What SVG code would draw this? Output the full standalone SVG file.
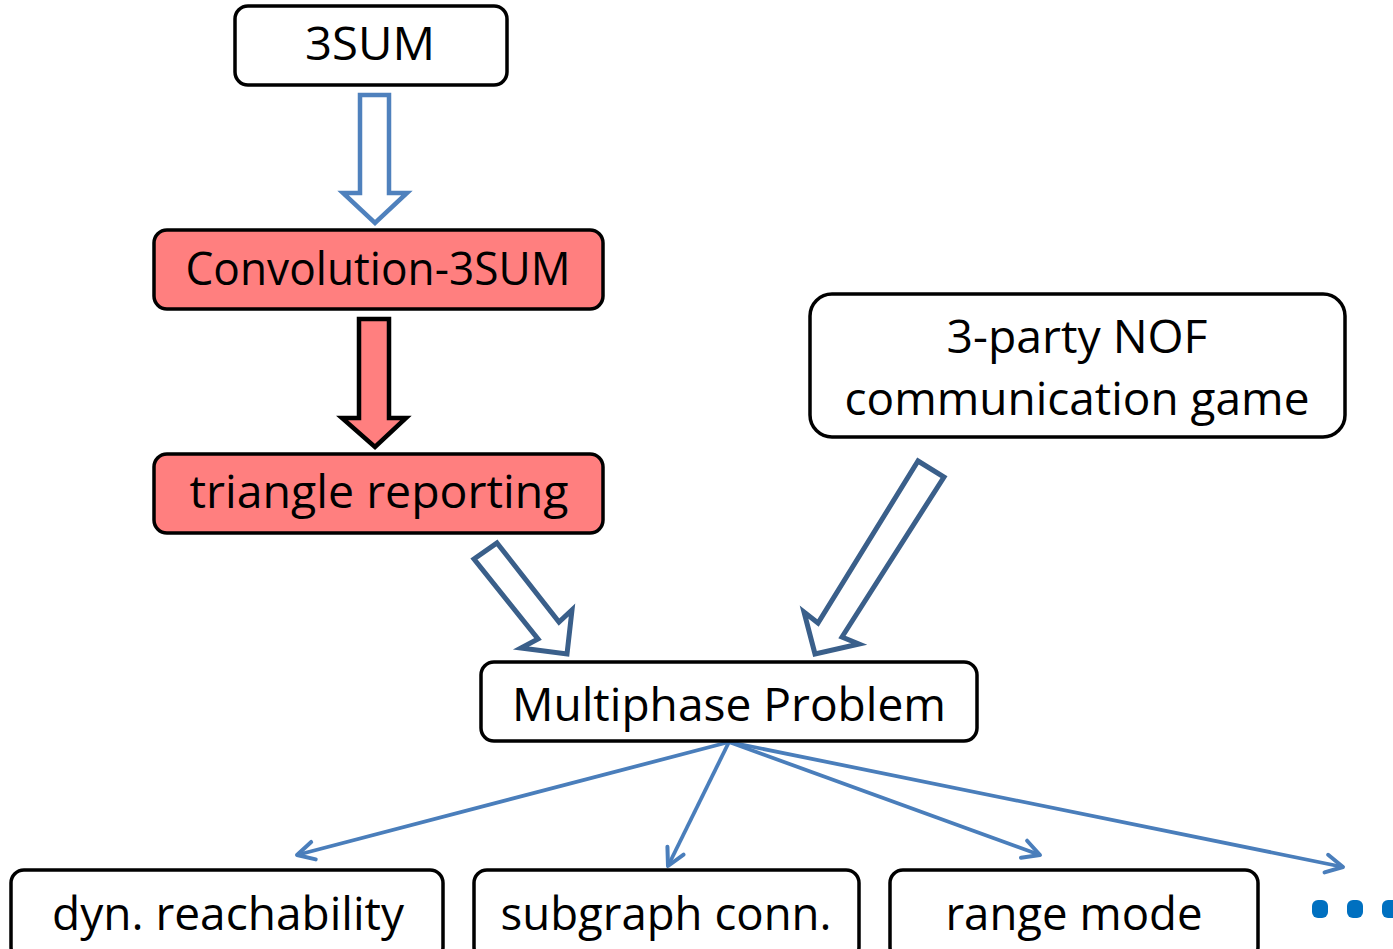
<svg xmlns="http://www.w3.org/2000/svg" width="1393" height="949" viewBox="0 0 1393 949">
<defs>
<style>
.box{fill:#fff;stroke:#000;stroke-width:3.5}
.red{fill:#FF7F7F;stroke:#000;stroke-width:3.5}
.t{font-family:"Open Sans","Liberation Sans",sans-serif;font-size:46px;fill:#000;text-anchor:middle}
.conn{fill:none;stroke:#4A7EBB;stroke-width:3.8}
.dot{fill:#0070C0}
</style>
<marker id="ah" viewBox="0 0 24 24" refX="21" refY="12" markerWidth="24" markerHeight="24" markerUnits="userSpaceOnUse" orient="auto">
<polyline points="4,3 21,12 4,21" fill="none" stroke="#4A7EBB" stroke-width="4" stroke-linecap="round" stroke-linejoin="round"/>
</marker>
</defs>
<rect width="1393" height="949" fill="#fff"/>
<g id="connectors">
<polygon points="360,95 389,95 389,193 407,193 375,223 343,193 360,193" fill="#fff" stroke="#4F81BD" stroke-width="4.5"/>
<polygon points="359,319 389,319 389,418 406,418 375,447 342,418 359,418" fill="#FF7F7F" stroke="#000" stroke-width="4.5"/>
<polygon points="497,543 559,622 572,610 567,654 521,648 538,639 474,559" fill="#fff" stroke="#3A5F8A" stroke-width="5" stroke-linejoin="miter"/>
<polygon points="918,461 944,477 842,637 859,644 815,654 804,612 818,623" fill="#fff" stroke="#3A5F8A" stroke-width="5" stroke-linejoin="miter"/>
<line class="conn" x1="729" y1="742" x2="297" y2="855" marker-end="url(#ah)"/>
<line class="conn" x1="729" y1="742" x2="668" y2="866" marker-end="url(#ah)"/>
<line class="conn" x1="729" y1="742" x2="1040" y2="855" marker-end="url(#ah)"/>
<line class="conn" x1="729" y1="742" x2="1343" y2="867" marker-end="url(#ah)"/>
</g>
<g id="n-3sum">
<rect class="box" x="235" y="6" width="272" height="79" rx="13"/>
<text class="t" x="370" y="60" textLength="130" lengthAdjust="spacingAndGlyphs">3SUM</text>
</g>
<g id="n-conv">
<rect class="red" x="154" y="230" width="449" height="79" rx="13"/>
<text class="t" x="378" y="285" textLength="385" lengthAdjust="spacingAndGlyphs">Convolution-3SUM</text>
</g>
<g id="n-tri">
<rect class="red" x="154" y="454" width="449" height="79" rx="13"/>
<text class="t" x="379" y="508" textLength="379" lengthAdjust="spacingAndGlyphs">triangle reporting</text>
</g>
<g id="n-nof">
<rect class="box" x="810" y="294" width="535" height="143" rx="22"/>
<text class="t" x="1077" y="353" textLength="261" lengthAdjust="spacingAndGlyphs">3-party NOF</text>
<text class="t" x="1077" y="415" textLength="465" lengthAdjust="spacingAndGlyphs">communication game</text>
</g>
<g id="n-multi">
<rect class="box" x="481" y="662" width="496" height="79" rx="13"/>
<text class="t" x="729" y="721" textLength="434" lengthAdjust="spacingAndGlyphs">Multiphase Problem</text>
</g>
<g id="n-dyn">
<rect class="box" x="11" y="870" width="432" height="90" rx="13"/>
<text class="t" x="228" y="930" textLength="352" lengthAdjust="spacingAndGlyphs">dyn. reachability</text>
</g>
<g id="n-sub">
<rect class="box" x="474" y="870" width="385" height="90" rx="13"/>
<text class="t" x="666" y="930" textLength="331" lengthAdjust="spacingAndGlyphs">subgraph conn.</text>
</g>
<g id="n-range">
<rect class="box" x="890" y="870" width="368" height="90" rx="13"/>
<text class="t" x="1074" y="930" textLength="257" lengthAdjust="spacingAndGlyphs">range mode</text>
</g>
<g id="n-dots">
<rect class="dot" x="1312" y="900" width="16" height="18" rx="6"/>
<rect class="dot" x="1347" y="900" width="16" height="18" rx="6"/>
<rect class="dot" x="1382" y="900" width="16" height="18" rx="6"/>
</g>
</svg>
